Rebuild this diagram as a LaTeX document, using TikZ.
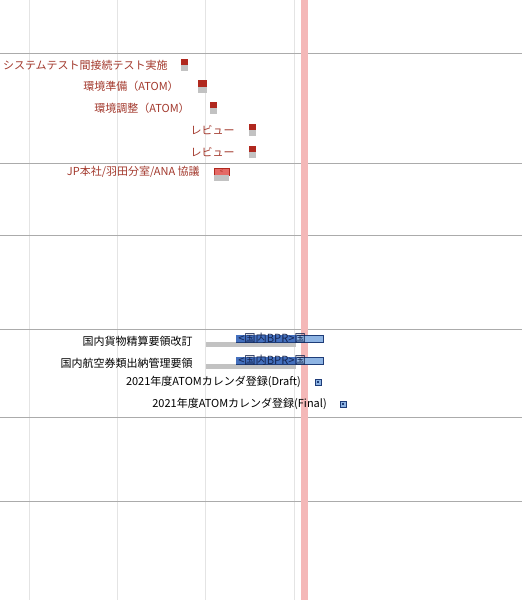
\documentclass[tikz,border=0pt]{standalone}
\usepackage{fontspec}
\setmainfont{Noto Sans CJK JP}
\usepackage{xcolor}
\usetikzlibrary{positioning}
\definecolor{rust}{HTML}{A3392D}
\definecolor{brick}{HTML}{B0281E}
\definecolor{salmon}{HTML}{E46A66}
\definecolor{ash}{HTML}{C2C2C2}
\definecolor{navy}{HTML}{1E3C78}
\definecolor{ink}{HTML}{14244F}
\definecolor{cobalt}{HTML}{4470BE}
\definecolor{sky}{HTML}{8EB4E3}
\definecolor{rule}{HTML}{ABABAB}
\definecolor{faint}{HTML}{E4E4E4}
\definecolor{today}{HTML}{F4B8B8}

\begin{document}
\begin{tikzpicture}[
  x=0.75pt, y=-0.75pt,
  task/.style={anchor=east, inner sep=0pt, font=\fontsize{8.25}{10}\selectfont},
  redtask/.style={task, text=rust},
  bluetask/.style={task, text=black},
  barlabel/.style={anchor=west, inner sep=0pt, text=ink, font=\fontsize{8.4}{9}\selectfont},
  mile/.style={rectangle, draw=navy, fill=sky, line width=0.4pt, inner sep=0pt,
    minimum size=4.4pt,
    path picture={\fill[navy] ([shift={(-0.9pt,-0.9pt)}]path picture bounding box.center)
      rectangle ([shift={(0.9pt,0.9pt)}]path picture bounding box.center);}},
  gridv/.style={draw=faint, line width=0.6pt},
  gridh/.style={draw=rule, line width=0.6pt}
]
\useasboundingbox (0,0) rectangle (522,600);
\fill[white] (0,0) rectangle (522,600);

% grid
\foreach \gx in {29.5,117.5,205.5,294.5}
  \draw[gridv] (\gx,0) -- (\gx,600);
\foreach \gy in {53,163,235,329,417,501}
  \draw[gridh] (0,\gy) -- (522,\gy);

% red group
\node[redtask] (systest) at (168,65) {システムテスト間接続テスト実施};
\fill[brick] (181,59) rectangle (188,65);
\fill[ash] (181,65) rectangle (188,71);

\node[redtask] (envprep) at (179,86) {環境準備（ATOM）};
\fill[brick] (198,80) rectangle (207,87);
\fill[ash] (198,87) rectangle (207,93);

\node[redtask] (envadj) at (190,108) {環境調整（ATOM）};
\fill[brick] (210,102) rectangle (217,108);
\fill[ash] (210,108) rectangle (217,114);

\node[redtask] (reviewa) at (235,130) {レビュー};
\fill[brick] (249,124) rectangle (256,130);
\fill[ash] (249,130) rectangle (256,136);

\node[redtask] (reviewb) at (235,152) {レビュー};
\fill[brick] (249,146) rectangle (256,152);
\fill[ash] (249,152) rectangle (256,158);

\node[redtask] (jpmeet) at (200,172) {JP本社/羽田分室/ANA 協議};
\draw[draw=brick, fill=salmon, line width=0.4pt] (214,168) rectangle (229,175);
\node[inner sep=0pt, text=brick, font=\fontsize{4.5}{4.5}\selectfont] (jpmark) at (221.5,171.3) {<};
\fill[ash] (214,175) rectangle (229,181);

% today
\fill[today] (301,0) rectangle (308,600);

% blue group
\node[bluetask] (cargo) at (193,341) {国内貨物精算要領改訂};
\fill[ash] (206,342) rectangle (296,347);
\draw[draw=navy, fill=sky, line width=0.4pt] (236,335) rectangle (323,342);
\fill[cobalt] (236,335) rectangle (297,342);
\node[barlabel] (cargobar) at (238,338.5) {<国内BPR>国};

\node[bluetask] (ticket) at (193,363) {国内航空券類出納管理要領};
\fill[ash] (206,364) rectangle (296,369);
\draw[draw=navy, fill=sky, line width=0.4pt] (236,357) rectangle (323,364);
\fill[cobalt] (236,357) rectangle (297,364);
\node[barlabel] (ticketbar) at (238,360.5) {<国内BPR>国};

\node[bluetask] (draft) at (301,382) {2021年度ATOMカレンダ登録(Draft)};
\node[mile] (draftmile) at (318,382) {};

\node[bluetask] (final) at (327,404) {2021年度ATOMカレンダ登録(Final)};
\node[mile] (finalmile) at (343,404) {};
\end{tikzpicture}
\end{document}
